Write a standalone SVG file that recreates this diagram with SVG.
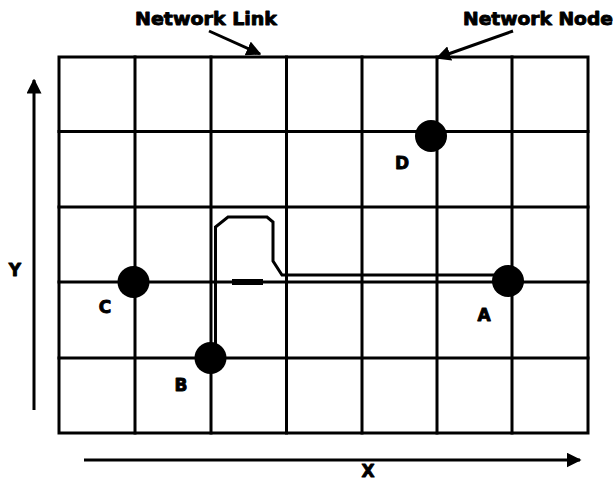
<svg xmlns="http://www.w3.org/2000/svg" width="613" height="481" viewBox="0 0 613 481">
<defs>
<marker id="ah" viewBox="0 0 10 10" refX="9" refY="5" markerWidth="5" markerHeight="5" orient="auto" markerUnits="strokeWidth">
<path d="M0,0 L10,5 L0,10 z" fill="#000"/>
</marker>
<style>
.g{stroke:#000;stroke-width:3;fill:none;stroke-linecap:square}
.lbl{font-family:"DejaVu Sans","Liberation Sans",sans-serif;font-weight:bold;fill:#000;stroke:#000;stroke-width:0.9;stroke-linejoin:round}
.nl{font-size:17px;text-anchor:middle}
.node{fill:#000}
.ax{stroke:#000;stroke-width:3;fill:none}
</style>
</defs>
<rect width="613" height="481" fill="#fff"/>
<g id="grid" class="g">
<rect x="59" y="57" width="529" height="376"/>
<line x1="135" y1="57" x2="135" y2="433"/>
<line x1="211" y1="57" x2="211" y2="433"/>
<line x1="286.5" y1="57" x2="286.5" y2="433"/>
<line x1="362" y1="57" x2="362" y2="433"/>
<line x1="437" y1="57" x2="437" y2="433"/>
<line x1="512" y1="57" x2="512" y2="433"/>
<line x1="59" y1="131.5" x2="588" y2="131.5"/>
<line x1="59" y1="207" x2="588" y2="207"/>
<line x1="59" y1="282" x2="588" y2="282"/>
<line x1="59" y1="358" x2="588" y2="358"/>
</g>
<g id="connectors">
<path d="M215.5,352 L215.5,227 L228,217 L267,217 L273,222 L273,261 L282,275 L497,275" stroke="#000" stroke-width="3" fill="none"/>
<line x1="232" y1="282" x2="263" y2="282" stroke="#000" stroke-width="6"/>
<line x1="209" y1="31" x2="260" y2="54" class="ax" marker-end="url(#ah)"/>
<line x1="513" y1="31" x2="437" y2="58" class="ax" marker-end="url(#ah)"/>
<line x1="34" y1="410" x2="34" y2="80" class="ax" marker-end="url(#ah)"/>
<line x1="84" y1="460" x2="580" y2="460" class="ax" marker-end="url(#ah)"/>
</g>
<g id="node-A"><circle class="node" cx="508" cy="281" r="16"/><text class="lbl nl" x="484" y="321">A</text></g>
<g id="node-B"><circle class="node" cx="210.5" cy="358" r="16"/><text class="lbl nl" x="181" y="391">B</text></g>
<g id="node-C"><circle class="node" cx="133.5" cy="282" r="16"/><text class="lbl nl" x="105" y="313">C</text></g>
<g id="node-D"><circle class="node" cx="431" cy="136" r="16"/><text class="lbl nl" x="402" y="169">D</text></g>
<g id="labels">
<text class="lbl" x="135" y="25" font-size="17" textLength="142" lengthAdjust="spacingAndGlyphs">Network Link</text>
<text class="lbl" x="463" y="25" font-size="17" textLength="150" lengthAdjust="spacingAndGlyphs">Network Node</text>
<text class="lbl nl" x="15" y="276">Y</text>
<text class="lbl nl" x="368" y="477" font-size="16">X</text>
</g>
</svg>
